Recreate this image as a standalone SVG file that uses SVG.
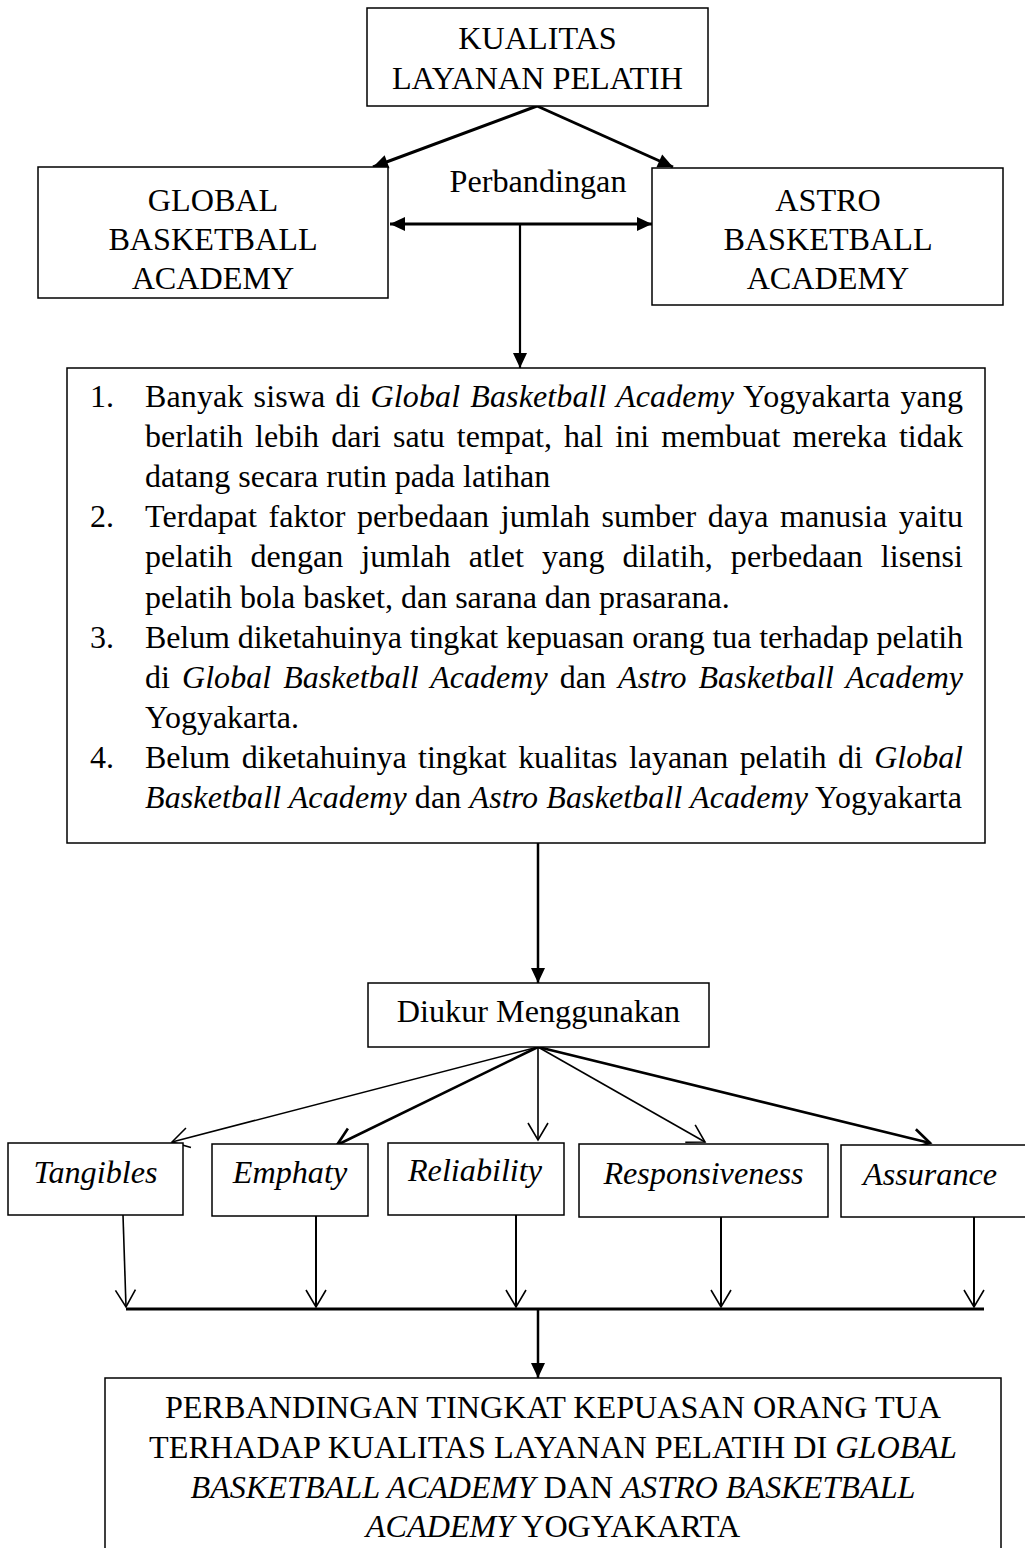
<svg xmlns="http://www.w3.org/2000/svg" width="1025" height="1548" viewBox="0 0 1025 1548">
<style>
  .box { fill: #fff; stroke: #000; stroke-width: 1.5; }
  .t { font-family: "Liberation Serif", "Times New Roman", serif; font-size: 32.2px; fill: #000; }
  .c { text-anchor: middle; }
  .m { font-family: "Liberation Serif", "Times New Roman", serif; font-size: 32px; fill: #000; }
  .i { font-style: italic; }
  .ln { fill: none; stroke: #000; }
</style>
<defs>
  <marker id="fa" markerUnits="userSpaceOnUse" markerWidth="20" markerHeight="16" refX="15" refY="7" orient="auto-start-reverse" overflow="visible">
    <path d="M0,0 L15,7 L0,14 z" fill="#000"/>
  </marker>
  <marker id="va" markerUnits="userSpaceOnUse" markerWidth="20" markerHeight="24" refX="17" refY="10" orient="auto" overflow="visible">
    <path d="M0,0 L17,10 L0,20" fill="none" stroke="#000" stroke-width="1.6"/>
  </marker>
  <marker id="vb" markerUnits="userSpaceOnUse" markerWidth="20" markerHeight="24" refX="17" refY="10" orient="auto" overflow="visible">
    <path d="M0,0 L17,10 L0,20" fill="none" stroke="#000" stroke-width="2.6"/>
  </marker>
</defs>

<g id="connectors">
  <line class="ln" x1="537" y1="106" x2="373" y2="167" stroke-width="3" marker-end="url(#fa)"/>
  <line class="ln" x1="537" y1="106" x2="673" y2="167" stroke-width="3" marker-end="url(#fa)"/>
  <line class="ln" x1="390" y1="224" x2="652" y2="224" stroke-width="3" marker-start="url(#fa)" marker-end="url(#fa)"/>
  <line class="ln" x1="520" y1="224" x2="520" y2="368" stroke-width="2.2" marker-end="url(#fa)"/>
  <line class="ln" x1="538" y1="843" x2="538" y2="983" stroke-width="2.5" marker-end="url(#fa)"/>
  <line class="ln" x1="538" y1="1047" x2="172" y2="1142" stroke-width="1.6" marker-end="url(#va)"/>
  <line class="ln" x1="538" y1="1047" x2="337" y2="1145" stroke-width="2.6" marker-end="url(#vb)"/>
  <line class="ln" x1="538" y1="1047" x2="538" y2="1140" stroke-width="1.6" marker-end="url(#va)"/>
  <line class="ln" x1="538" y1="1047" x2="705" y2="1142" stroke-width="1.6" marker-end="url(#va)"/>
  <line class="ln" x1="538" y1="1047" x2="930" y2="1143" stroke-width="2.6" marker-end="url(#vb)"/>
  <line class="ln" x1="123" y1="1215" x2="126" y2="1307" stroke-width="1.6" marker-end="url(#va)"/>
  <line class="ln" x1="316" y1="1216" x2="316" y2="1307" stroke-width="2" marker-end="url(#va)"/>
  <line class="ln" x1="516" y1="1215" x2="516" y2="1307" stroke-width="2" marker-end="url(#va)"/>
  <line class="ln" x1="721" y1="1217" x2="721" y2="1307" stroke-width="2" marker-end="url(#va)"/>
  <line class="ln" x1="974" y1="1217" x2="974" y2="1307" stroke-width="2" marker-end="url(#va)"/>
  <line class="ln" x1="126" y1="1309" x2="984" y2="1309" stroke-width="3"/>
  <line class="ln" x1="538" y1="1309" x2="538" y2="1378" stroke-width="2.5" marker-end="url(#fa)"/>
</g>

<g id="kualitas">
  <rect class="box" x="367" y="8" width="341" height="98"/>
  <text class="t c" x="537.5" y="49">KUALITAS</text>
  <text class="t c" x="537.5" y="89">LAYANAN PELATIH</text>
</g>

<g id="perbandingan-label">
  <text class="t c" x="538" y="192">Perbandingan</text>
</g>

<g id="global">
  <rect class="box" x="38" y="167" width="350" height="131"/>
  <text class="t c" x="213" y="211">GLOBAL</text>
  <text class="t c" x="213" y="250">BASKETBALL</text>
  <text class="t c" x="213" y="289">ACADEMY</text>
</g>

<g id="astro">
  <rect class="box" x="652" y="168" width="351" height="137"/>
  <text class="t c" x="828" y="211">ASTRO</text>
  <text class="t c" x="828" y="250">BASKETBALL</text>
  <text class="t c" x="828" y="289">ACADEMY</text>
</g>

<g id="masalah">
  <rect class="box" x="67" y="368" width="918" height="475"/>
  <text class="m" x="90" y="407">1.</text>
  <text class="m" x="145" y="407" word-spacing="2" textLength="818" lengthAdjust="spacing">Banyak siswa di <tspan class="i">Global Basketball Academy</tspan> Yogyakarta yang</text>
  <text class="m" x="145" y="447" word-spacing="4" textLength="818" lengthAdjust="spacing">berlatih lebih dari satu tempat, hal ini membuat mereka tidak</text>
  <text class="m" x="145" y="487">datang secara rutin pada latihan</text>
  <text class="m" x="90" y="527">2.</text>
  <text class="m" x="145" y="527" word-spacing="3.5" textLength="818" lengthAdjust="spacing">Terdapat faktor perbedaan jumlah sumber daya manusia yaitu</text>
  <text class="m" x="145" y="567" word-spacing="10" textLength="818" lengthAdjust="spacing">pelatih dengan jumlah atlet yang dilatih, perbedaan lisensi</text>
  <text class="m" x="145" y="608">pelatih bola basket, dan sarana dan prasarana.</text>
  <text class="m" x="90" y="648">3.</text>
  <text class="m" x="145" y="648" textLength="818" lengthAdjust="spacing">Belum diketahuinya tingkat kepuasan orang tua terhadap pelatih</text>
  <text class="m" x="145" y="688" word-spacing="4" textLength="818" lengthAdjust="spacing">di <tspan class="i">Global Basketball Academy</tspan> dan <tspan class="i">Astro Basketball Academy</tspan></text>
  <text class="m" x="145" y="728">Yogyakarta.</text>
  <text class="m" x="90" y="768">4.</text>
  <text class="m" x="145" y="768" word-spacing="3.5" textLength="818" lengthAdjust="spacing">Belum diketahuinya tingkat kualitas layanan pelatih di <tspan class="i">Global</tspan></text>
  <text class="m" x="145" y="808" textLength="817" lengthAdjust="spacing"><tspan class="i">Basketball Academy</tspan> dan <tspan class="i">Astro Basketball Academy</tspan> Yogyakarta</text>
</g>

<g id="diukur">
  <rect class="box" x="368" y="983" width="341" height="64"/>
  <text class="t c" x="538.5" y="1022">Diukur Menggunakan</text>
</g>

<g id="tangibles">
  <rect class="box" x="8" y="1143" width="175" height="72"/>
  <text class="t c i" x="95.5" y="1183">Tangibles</text>
</g>
<g id="emphaty">
  <rect class="box" x="212" y="1144" width="156" height="72"/>
  <text class="t c i" x="290" y="1183">Emphaty</text>
</g>
<g id="reliability">
  <rect class="box" x="388" y="1143" width="176" height="72"/>
  <text class="t c i" x="475" y="1181">Reliability</text>
</g>
<g id="responsiveness">
  <rect class="box" x="579" y="1144" width="249" height="73"/>
  <text class="t c i" x="703.5" y="1184">Responsiveness</text>
</g>
<g id="assurance">
  <rect class="box" x="841" y="1145" width="200" height="72"/>
  <text class="t i" x="863" y="1185">Assurance</text>
</g>

<g id="hasil">
  <rect class="box" x="105" y="1378" width="896" height="190"/>
  <text class="t c" x="553" y="1418">PERBANDINGAN TINGKAT KEPUASAN ORANG TUA</text>
  <text class="t c" x="553" y="1458">TERHADAP KUALITAS LAYANAN PELATIH DI <tspan class="i">GLOBAL</tspan></text>
  <text class="t c" x="553" y="1498"><tspan class="i">BASKETBALL ACADEMY</tspan> DAN <tspan class="i">ASTRO BASKETBALL</tspan></text>
  <text class="t c" x="553" y="1537"><tspan class="i">ACADEMY</tspan> YOGYAKARTA</text>
</g>
</svg>
